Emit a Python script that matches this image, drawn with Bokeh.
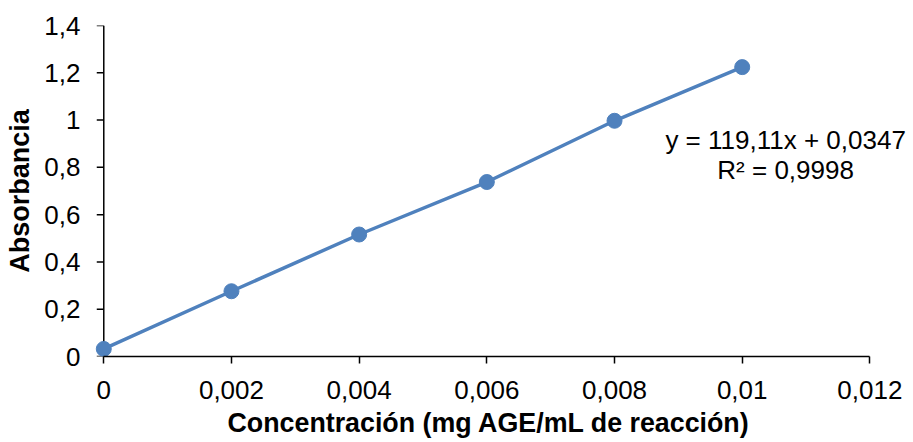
from bokeh.plotting import figure
from bokeh.models import Range1d, FixedTicker, Label, Title
from bokeh.embed import file_html
from bokeh.resources import INLINE

# Calibration data: concentration vs. absorbance
conc = [0.0, 0.002, 0.004, 0.006, 0.008, 0.010]
absorb = [0.032, 0.276, 0.516, 0.738, 0.997, 1.224]

x_ticks = [0.0, 0.002, 0.004, 0.006, 0.008, 0.010, 0.012]
x_tick_labels = ["0", "0,002", "0,004", "0,006", "0,008", "0,01", "0,012"]
y_ticks = [0.0, 0.2, 0.4, 0.6, 0.8, 1.0, 1.2, 1.4]
y_tick_labels = ["0", "0,2", "0,4", "0,6", "0,8", "1", "1,2", "1,4"]

x_title = "Concentración (mg AGE/mL de reacción)"
y_title = "Absorbancia"
equation = "y = 119,11x + 0,0347"
r_squared = "R² = 0,9998"

BLUE = "#4F81BD"
FONT = "Liberation Sans"
X_MIN, X_MAX = 0.0, 0.012
Y_MIN, Y_MAX = 0.0, 1.4
PAD_LEFT = 0.000302    # room so the first marker is not clipped at x = 0
PAD_RIGHT = 0.000683   # room for the trendline equation
TICK_LEN = 0.00011     # ~7 px outward tick on the value axis

p = figure(
    width=913, height=442,
    x_range=Range1d(X_MIN - PAD_LEFT, X_MAX + PAD_RIGHT),
    y_range=Range1d(Y_MIN, Y_MAX),
    output_backend="svg", toolbar_location=None,
    min_border_left=84, min_border_right=0,
    min_border_top=25, min_border_bottom=86,
)
p.outline_line_color = None
p.xgrid.visible = False
p.ygrid.visible = False
p.background_fill_color = "white"
p.border_fill_color = "white"

xa = p.xaxis[0]
xa.ticker = FixedTicker(ticks=x_ticks)
xa.major_label_overrides = {t: s for t, s in zip(x_ticks, x_tick_labels)}
xa.bounds = (X_MIN, X_MAX)
xa.axis_line_color = "black"
xa.axis_line_width = 1.5
xa.major_tick_line_color = "black"
xa.major_tick_line_width = 1.5
xa.major_tick_in = 0
xa.major_tick_out = 7
xa.major_label_standoff = 17

ya = p.yaxis[0]
ya.ticker = FixedTicker(ticks=y_ticks)
ya.major_label_overrides = {t: s for t, s in zip(y_ticks, y_tick_labels)}
ya.axis_label = y_title
# the value axis line and ticks are drawn at x = 0 inside the frame
ya.axis_line_color = None
ya.major_tick_line_color = None
ya.major_tick_in = 0
ya.major_tick_out = 0
ya.major_label_standoff = 4
ya.axis_label_standoff = 6

for ax in (xa, ya):
    ax.minor_tick_line_color = None
    ax.major_label_text_font = FONT
    ax.major_label_text_font_size = "26px"
    ax.major_label_text_color = "black"
    ax.axis_label_text_font = FONT
    ax.axis_label_text_font_size = "27px"
    ax.axis_label_text_font_style = "bold"
    ax.axis_label_text_color = "black"

# horizontal-axis title, placed under the 0 .. 0.012 span of the axis
p.add_layout(Title(text=x_title, align="left", offset=143, standoff=9,
                   text_font=FONT, text_font_size="26.8px",
                   text_font_style="bold", text_color="black"), "below")

# value axis at x = 0
p.segment(x0=[X_MIN], y0=[Y_MIN], x1=[X_MIN], y1=[Y_MAX],
          line_color="black", line_width=1.5)
p.segment(x0=[X_MIN] * len(y_ticks), y0=y_ticks,
          x1=[X_MIN - TICK_LEN] * len(y_ticks), y1=y_ticks,
          line_color="black", line_width=1.5)

p.line(conc, absorb, line_color=BLUE, line_width=3.5)
p.scatter(conc, absorb, size=15, fill_color=BLUE, line_color=BLUE)

p.add_layout(Label(x=0.01068, y=0.915, text=equation, text_align="center",
                   text_baseline="middle", text_font=FONT,
                   text_font_size="26px", text_color="black"))
p.add_layout(Label(x=0.01068, y=0.79, text=r_squared, text_align="center",
                   text_baseline="middle", text_font=FONT,
                   text_font_size="26px", text_color="black"))

open("out.html", "w").write(file_html(p, INLINE))
